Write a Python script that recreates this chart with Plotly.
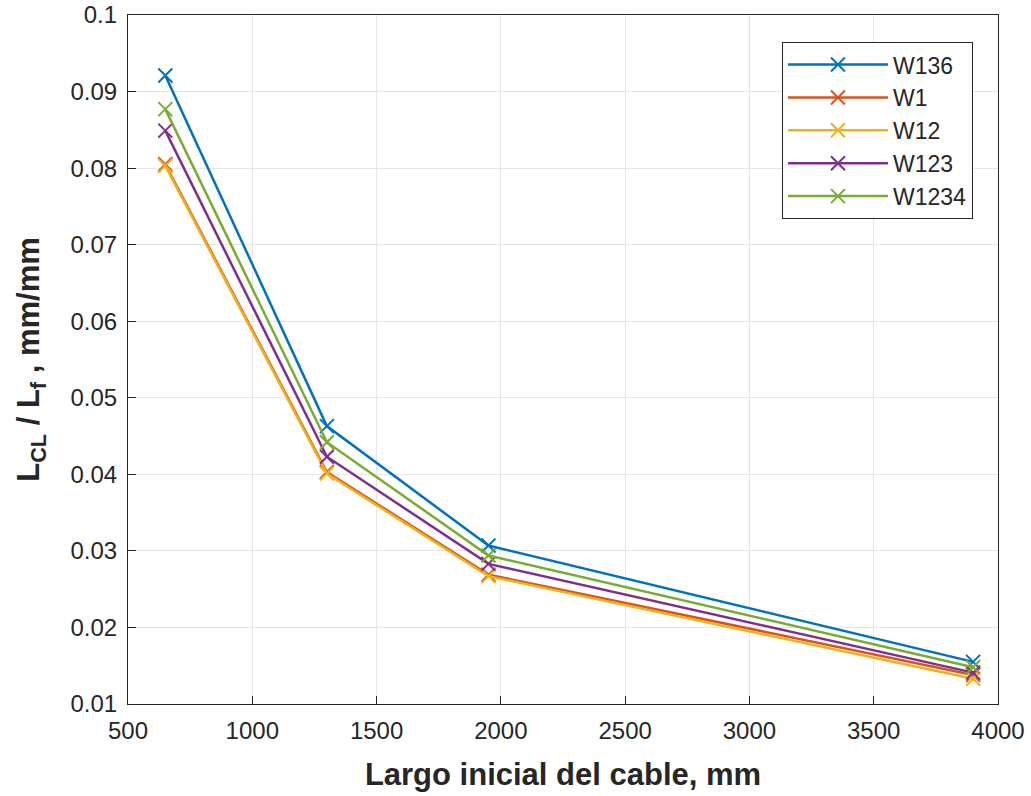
import plotly.graph_objects as go

# Initial cable length (mm)
largo = [650, 1300, 1950, 3900]

# L_CL / L_f ratio per configuration
w136 = [0.0921, 0.0463, 0.0307, 0.0155]
w1 = [0.0805, 0.0403, 0.0269, 0.0138]
w12 = [0.0803, 0.0401, 0.0267, 0.0133]
w123 = [0.0849, 0.0423, 0.0283, 0.0141]
w1234 = [0.0877, 0.0442, 0.0294, 0.0148]

y_ticks = [0.01, 0.02, 0.03, 0.04, 0.05, 0.06, 0.07, 0.08, 0.09, 0.1]
y_ticktext = ["0.01", "0.02", "0.03", "0.04", "0.05", "0.06", "0.07", "0.08", "0.09", "0.1"]

series = [
    ("W136", w136, "#0072BD"),
    ("W1", w1, "#D95319"),
    ("W12", w12, "#EDB120"),
    ("W123", w123, "#7E2F8E"),
    ("W1234", w1234, "#77AC30"),
]

FONT = "Arial, Liberation Sans"
INK = "#262626"

fig = go.Figure()
for name, vals, color in series:
    fig.add_trace(go.Scatter(
        x=largo, y=vals, name=name, mode="lines+markers",
        line=dict(color=color, width=2.5),
        marker=dict(symbol="x-thin", size=14, line=dict(color=color, width=2)),
    ))

axis_common = dict(
    showgrid=True, gridcolor="#e6e6e6", gridwidth=1,
    showline=True, linecolor=INK, linewidth=1.2, mirror=True,
    ticks="inside", ticklen=8, tickcolor=INK,
    tickfont=dict(family=FONT, size=24, color=INK),
    ticklabelstandoff=5,
    zeroline=False, automargin=False,
)

fig.update_xaxes(
    range=[500, 4000], dtick=500, tickformat="d",
    title=dict(text="<b>Largo inicial del cable, mm</b>",
               font=dict(family=FONT, size=31, color=INK),
               standoff=20),
    **axis_common,
)
fig.update_yaxes(
    range=[0.01, 0.1], tickvals=y_ticks, ticktext=y_ticktext,
    title=dict(text="<b>L<sub>CL</sub> / L<sub>f</sub> , mm/mm</b>",
               font=dict(family=FONT, size=31, color=INK),
               standoff=21),
    **axis_common,
)

fig.update_layout(
    width=1031, height=796,
    margin=dict(l=128, r=33, t=15, b=92),
    paper_bgcolor="white", plot_bgcolor="white",
    showlegend=True,
    legend=dict(
        x=0.971, y=0.961, xanchor="right", yanchor="top",
        bgcolor="white", bordercolor=INK, borderwidth=1.2,
        font=dict(family=FONT, size=23, color=INK),
        itemwidth=100,
    ),
)

fig.write_html("out.html")
